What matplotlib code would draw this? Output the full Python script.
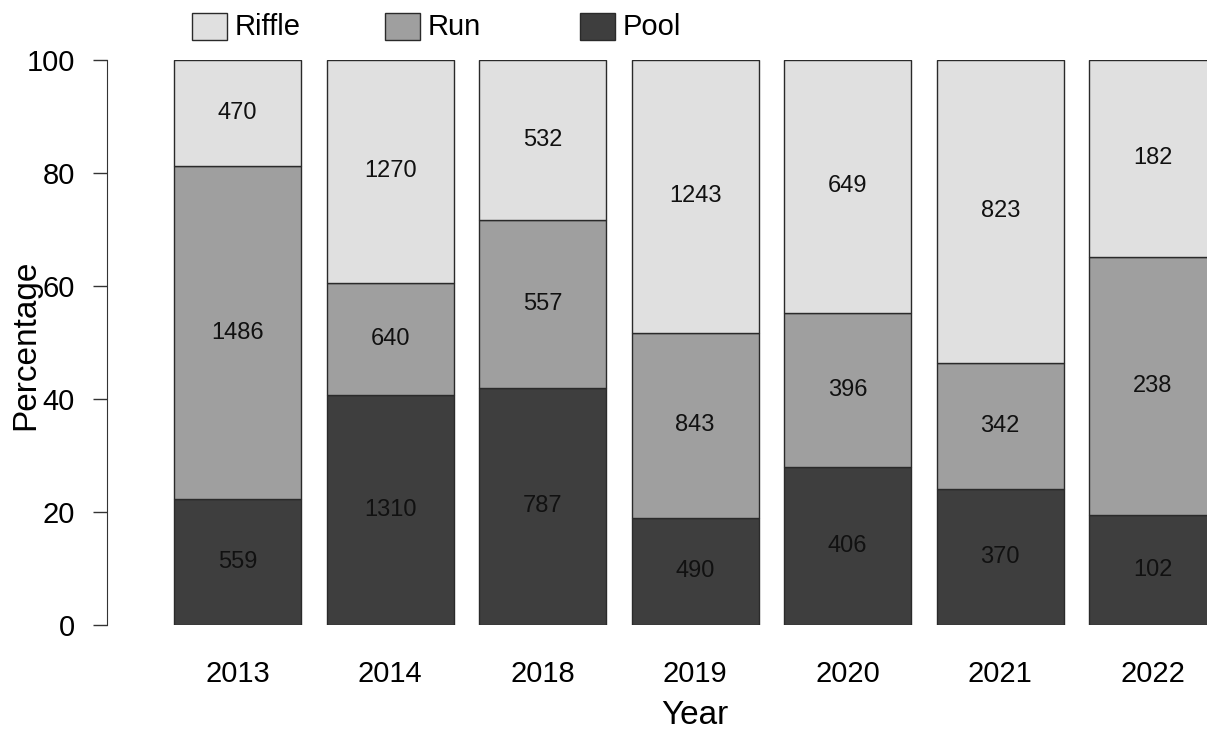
import matplotlib
matplotlib.use("Agg")
from matplotlib import pyplot as plt
from matplotlib.patches import Rectangle
import numpy as np

plt.rcParams['font.family'] = ['Liberation Sans', 'DejaVu Sans']

years = ['2013', '2014', '2018', '2019', '2020', '2021', '2022']
pool = [559, 1310, 787, 490, 406, 370, 102]
run = [1486, 640, 557, 843, 396, 342, 238]
riffle = [470, 1270, 532, 1243, 649, 823, 182]

habitats = ['Pool', 'Run', 'Riffle']
colours = ['#3e3e3e', '#9f9f9f', '#e0e0e0']

counts = np.array([pool, run, riffle], dtype=float)
pct = counts / counts.sum(axis=0) * 100

W, H = 1207, 733
fig = plt.figure(figsize=(W / 100, H / 100), dpi=100)
ax = fig.add_axes([107 / W, (H - 625) / H, 1100 / W, 565 / H])

x = 0.7 + 1.2 * np.arange(len(years))
bottom = np.zeros(len(years))
for i in range(3):
    ax.bar(x, pct[i], width=1.0, bottom=bottom, color=colours[i],
           edgecolor='#2a2a2a', linewidth=1.0)
    for xi, b, h, c in zip(x, bottom, pct[i], counts[i]):
        ax.text(xi, b + h / 2, f'{int(c)}', ha='center', va='center',
                fontsize=17, color='#111111')
    bottom += pct[i]

ax.set_xlim(-0.327, 8.327)
ax.set_ylim(0, 100)
ax.set_xticks(x)
ax.set_xticklabels(years)
ax.set_yticks([0, 20, 40, 60, 80, 100])
ax.tick_params(axis='x', length=0, pad=25, labelsize=21)
ax.tick_params(axis='y', length=10, width=1, pad=13, labelsize=21, color='#333333')
for s in ['top', 'right', 'bottom']:
    ax.spines[s].set_visible(False)
ax.spines['left'].set_color('#333333')

ax.set_xlabel('Year', fontsize=24)
ax.set_ylabel('Percentage', fontsize=24)
ax.xaxis.set_label_coords((695 - 107) / 1100, (625 - 716) / 565)
ax.yaxis.set_label_coords((26 - 107) / 1100, (625 - 345) / 565)
ax.xaxis.label.set_va('center')
ax.yaxis.label.set_va('center')

# legend drawn along the top
leg_x = [192, 385, 580]
for lx, name, col in zip(leg_x, ['Riffle', 'Run', 'Pool'], colours[::-1]):
    fig.add_artist(Rectangle((lx / W, (H - 40) / H), 35 / W, 27 / H,
                             facecolor=col, edgecolor='#2a2a2a', linewidth=1.0,
                             transform=fig.transFigure))
    fig.text((lx + 43) / W, (H - 27) / H, name, fontsize=21,
             ha='left', va='center')

fig.savefig('out.png', dpi=100)
